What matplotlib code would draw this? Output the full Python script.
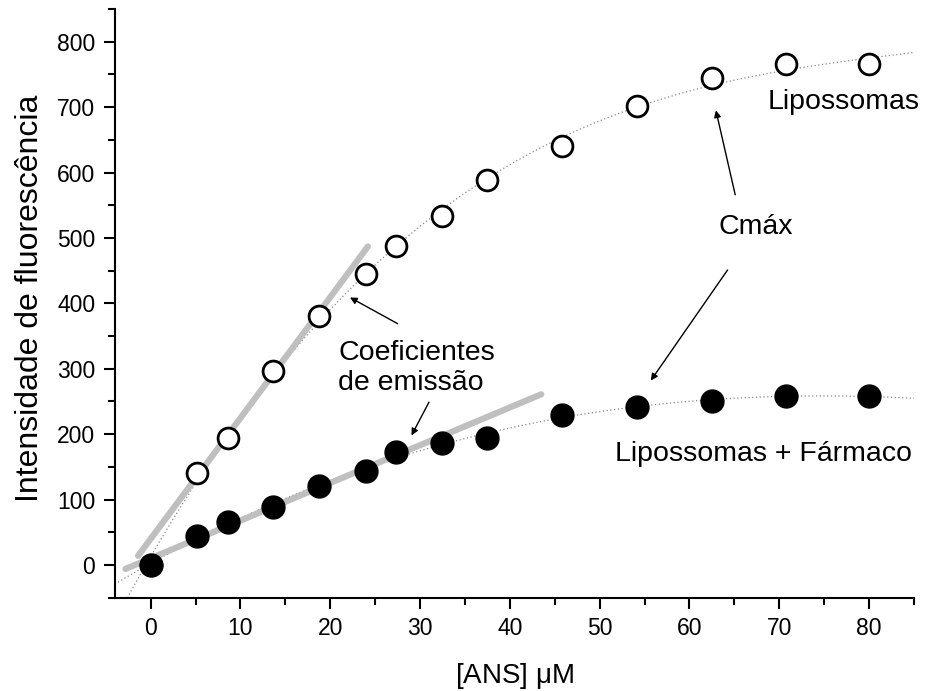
import matplotlib.pyplot as plt
import numpy as np
from matplotlib.ticker import MultipleLocator

plt.rcParams['font.family'] = ['Liberation Sans', 'DejaVu Sans']

# [ANS] uM
conc = [0, 5.2, 8.6, 13.6, 18.8, 24.0, 27.3, 32.4, 37.5, 45.8, 54.2, 62.5, 70.8, 80.0]
# intensidade - lipossomas (open) and lipossomas + farmaco (filled)
lipo = [0, 141, 194, 297, 381, 445, 487, 534, 588, 641, 702, 744, 766, 766]
lipo_farm = [0, 45, 65, 88, 121, 144, 172, 187, 194, 230, 242, 251, 258, 258]

# initial slope lines (emission coefficients), end points
coef_lipo_x = [-1.4, 24.2]
coef_lipo_y = [14, 487]
coef_farm_x = [-2.8, 43.5]
coef_farm_y = [-6, 261]

fig = plt.figure(figsize=(9.25, 6.91), dpi=100)
ax = fig.add_axes([0.124, 0.135, 0.864, 0.852])

# dotted fitted curves
xs = np.linspace(-4, 85, 200)
p1 = np.polyfit(conc, lipo, 3)
p2 = np.polyfit(conc, lipo_farm, 3)
ax.plot(xs, np.polyval(p1, xs), ls=(0, (1, 2)), color='#888888', lw=0.9, zorder=1)
ax.plot(xs, np.polyval(p2, xs), ls=(0, (1, 2)), color='#888888', lw=0.9, zorder=1)

ax.plot(coef_lipo_x, coef_lipo_y, color='#bfbfbf', lw=4.5, solid_capstyle='round', zorder=2)
ax.plot(coef_farm_x, coef_farm_y, color='#bfbfbf', lw=4.5, solid_capstyle='round', zorder=2)

ax.plot(conc, lipo, 'o', ms=15, mfc='white', mec='black', mew=2, ls='none', zorder=3)
ax.plot(conc, lipo_farm, 'o', ms=16.5, mfc='black', mec='black', ls='none', zorder=4)

ax.set_xlim(-4, 85)
ax.set_ylim(-50, 850)
ax.xaxis.set_major_locator(MultipleLocator(10))
ax.xaxis.set_minor_locator(MultipleLocator(5))
ax.yaxis.set_major_locator(MultipleLocator(100))
ax.yaxis.set_minor_locator(MultipleLocator(50))
ax.spines['top'].set_visible(False)
ax.spines['right'].set_visible(False)
ax.spines['left'].set_linewidth(1.5)
ax.spines['bottom'].set_linewidth(1.5)
ax.tick_params(which='major', length=8, width=1.5, labelsize=16.5, pad=6)
ax.tick_params(which='minor', length=5, width=1.5)

fig.text(514.5 / 925, 1 - 676 / 691, '[ANS] $\\mathregular{\\mu}$M', fontsize=20,
         ha='center', va='center')
fig.text(30 / 925, 1 - 298 / 691, 'Intensidade de fluorescência', fontsize=23,
         ha='center', va='center', rotation=90)

ax.text(68.7, 708, 'Lipossomas', fontsize=20.5, ha='left', va='center')
ax.text(51.7, 170, 'Lipossomas + Fármaco', fontsize=20.5, ha='left', va='center')
ax.text(63.2, 517, 'Cmáx', fontsize=20.5, ha='left', va='center')
ax.text(20.9, 301, 'Coeficientes\nde emissão', fontsize=20.5, ha='left', va='center',
        multialignment='left', linespacing=1.2)

arrow = dict(arrowstyle='-|>', color='black', lw=1, mutation_scale=10, shrinkA=0, shrinkB=0)
ax.annotate('', xy=(62.95, 695), xytext=(65.1, 566), arrowprops=arrow)
ax.annotate('', xy=(55.7, 282), xytext=(64.25, 451), arrowprops=arrow)
ax.annotate('', xy=(22.2, 409), xytext=(27.5, 369), arrowprops=arrow)
ax.annotate('', xy=(29.05, 198), xytext=(31.0, 249), arrowprops=arrow)

fig.savefig('out.png', dpi=100)
